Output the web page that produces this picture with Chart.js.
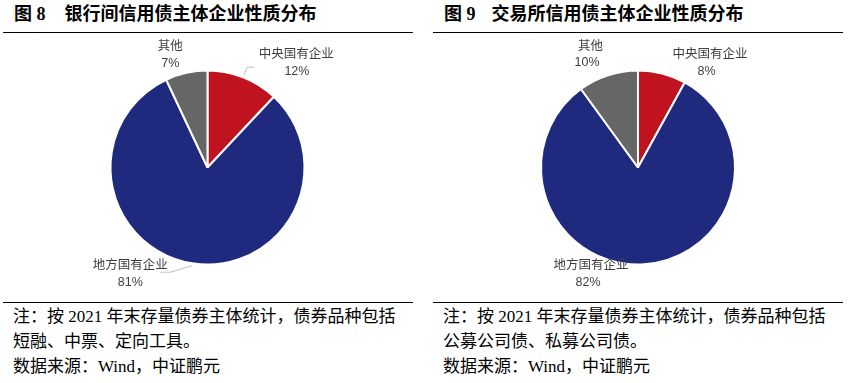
<!DOCTYPE html>
<html>
<head>
<meta charset="utf-8">
<script src="https://cdn.jsdelivr.net/npm/chart.js@4"></script>
<style>
  html, body { margin: 0; padding: 0; background: #fff; }
  body { width: 850px; height: 383px; position: relative; overflow: hidden; }
  .title { position: absolute; top: 3px; font-family: "Liberation Serif", "Noto Sans CJK SC", serif; font-weight: bold; font-size: 18px; line-height: 22px; color: #000; white-space: pre; }
  .rule { position: absolute; height: 1px; background: #000; }
  .note { position: absolute; font-family: "Liberation Serif", "Noto Sans CJK SC", serif; font-size: 17px; line-height: 25px; color: #000; white-space: pre; }
  canvas { position: absolute; }
</style>
</head>
<body>
<div class="title" style="left:14px;">图 8<span style="margin-left:19px;">银行间信用债主体企业性质分布</span></div>
<div class="title" style="left:444px;">图 9<span style="margin-left:16px;">交易所信用债主体企业性质分布</span></div>
<div class="rule" style="left:3px; width:410px; top:32px;"></div>
<div class="rule" style="left:433px; width:410px; top:32px;"></div>

<canvas id="c1" width="425" height="264" style="left:0px; top:36px;"></canvas>
<canvas id="c2" width="425" height="264" style="left:425px; top:36px;"></canvas>

<div class="rule" style="left:3px; width:410px; top:302px;"></div>
<div class="rule" style="left:433px; width:410px; top:302px;"></div>
<div class="note" style="left:13px; top:304px;">注：按 2021 年末存量债券主体统计，债券品种包括
短融、中票、定向工具。
数据来源：Wind，中证鹏元</div>
<div class="note" style="left:443px; top:304px;">注：按 2021 年末存量债券主体统计，债券品种包括
公募公司债、私募公司债。
数据来源：Wind，中证鹏元</div>

<script>
// ---- data ----
const categories = ["中央国有企业", "地方国有企业", "其他"];
const interbankShares = [12, 81, 7];   // 图8 银行间 (%)
const exchangeShares  = [8, 82, 10];   // 图9 交易所 (%)
const sliceColors = ["#C1121F", "#1F2A7E", "#666666"];

// label plugin: places category name + percent near each slice
const pieLabels = {
  id: "pieLabels",
  afterDatasetsDraw(chart, args, opts) {
    const ctx = chart.ctx;
    const meta = chart.getDatasetMeta(0);
    const data = chart.data.datasets[0].data;
    ctx.save();
    meta.data.forEach((arc, i) => {
      const p = arc.getProps(["x", "y", "startAngle", "endAngle", "outerRadius"], true);
      const mid = (p.startAngle + p.endAngle) / 2;
      const ox = p.x + Math.cos(mid) * p.outerRadius;
      const oy = p.y + Math.sin(mid) * p.outerRadius;
      const off = opts.offsets[i];
      const lx = ox + off[0], ly = oy + off[1];
      const lead = opts.leaders[i];
      if (lead) {
        const sx = p.x + Math.cos(mid) * (p.outerRadius + 2.5);
        const sy = p.y + Math.sin(mid) * (p.outerRadius + 2.5);
        ctx.strokeStyle = "#BFBFBF";
        ctx.lineWidth = 1;
        ctx.beginPath();
        ctx.moveTo(sx, sy);
        ctx.lineTo(lx + lead[0], ly + lead[1]);
        ctx.lineTo(lx + lead[2], ly + lead[3]);
        ctx.stroke();
      }
      ctx.fillStyle = "#404040";
      ctx.textAlign = "center";
      ctx.textBaseline = "middle";
      ctx.font = '12.5px "Liberation Sans", "Noto Sans CJK SC", sans-serif';
      ctx.fillText(chart.data.labels[i], lx, ly - 8.3);
      ctx.fillText(data[i] + "%", lx + (opts.valueShift ? opts.valueShift[i] : 0), ly + 8.4);
    });
    ctx.restore();
  }
};

function makePie(id, values, padding, offsets, leaders, valueShift) {
  return new Chart(document.getElementById(id), {
    type: "pie",
    data: {
      labels: categories,
      datasets: [{
        data: values,
        backgroundColor: sliceColors,
        borderColor: "#FFFFFF",
        borderWidth: 2
      }]
    },
    options: {
      responsive: false,
      animation: false,
      radius: 97,
      layout: { padding: padding },
      plugins: {
        legend: { display: false },
        tooltip: { enabled: false },
        pieLabels: { offsets: offsets, leaders: leaders, valueShift: valueShift }
      }
    },
    plugins: [pieLabels]
  });
}

makePie("c1", interbankShares,
  { left: 0, right: 10, top: 0, bottom: 1 },
  [[53, -14.5], [-62, 10.5], [-16, -18]],
  [[-49, 4.4, -42, 4.4], [40, -1.6, 30, -1.6], null],
  [0.7, 0, 0]);

makePie("c2", exchangeShares,
  { left: 1, right: 0, top: 0, bottom: 1 },
  [[48, -10.7], [-53, 9.5], [-17.5, -20.7]],
  [null, null, null],
  [-3.5, -3, -3.5]);
</script>
</body>
</html>
